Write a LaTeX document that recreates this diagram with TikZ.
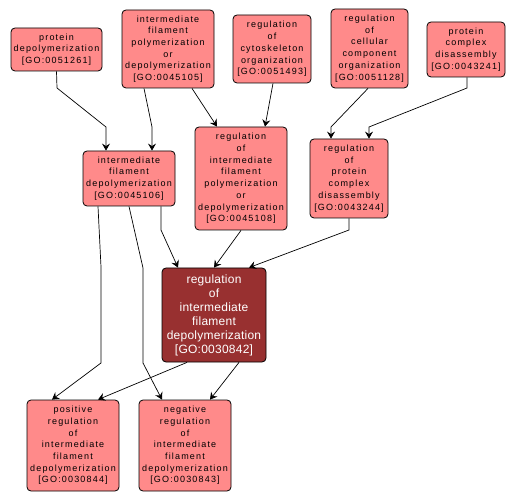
\documentclass[tikz,border=0pt]{standalone}
\usepackage{fontspec}
\usetikzlibrary{arrows.meta}
\newfontfamily\golight[LetterSpace=13]{Liberation Sans}
\newfontfamily\godark[LetterSpace=2]{Liberation Sans}
\definecolor{lightc}{RGB}{255,138,138}
\definecolor{darkc}{RGB}{152,48,48}
\tikzset{
  gobox/.style={draw=black, line width=0.8pt, rounded corners=4pt, fill=lightc,
    inner sep=0pt, align=center, text=black,
    font={\golight\fontsize{9}{11.7}\selectfont}},
  godk/.style={gobox, fill=darkc, text=white,
    font={\godark\fontsize{12}{14}\selectfont}},
  edge/.style={draw=black, line width=0.7pt,
    -{Stealth[length=7pt,width=8pt,inset=2.5pt]}}
}
\begin{document}
\begin{tikzpicture}[x=1pt,y=-1pt]
\useasboundingbox (0,0) rectangle (516,502);
\node[gobox, minimum width=91pt, minimum height=43pt] (pd) at (56.5,49.5) {protein\\depolymerization\\{[GO:0051261]}};
\node[gobox, minimum width=92pt, minimum height=78pt] (ifpd) at (168,49) {intermediate\\filament\\polymerization\\or\\depolymerization\\{[GO:0045105]}};
\node[gobox, minimum width=78pt, minimum height=68pt] (rco) at (272,49) {regulation\\of\\cytoskeleton\\organization\\{[GO:0051493]}};
\node[gobox, minimum width=77pt, minimum height=79pt] (rcc) at (369.5,48.5) {regulation\\of\\cellular\\component\\organization\\{[GO:0051128]}};
\node[gobox, minimum width=78pt, minimum height=55pt] (pcd) at (466,49.5) {protein\\complex\\disassembly\\{[GO:0043241]}};
\node[gobox, minimum width=92pt, minimum height=55pt] (ifd) at (129,178.5) {intermediate\\filament\\depolymerization\\{[GO:0045106]}};
\node[gobox, minimum width=92pt, minimum height=103pt] (rifp) at (241,178.5) {regulation\\of\\intermediate\\filament\\polymerization\\or\\depolymerization\\{[GO:0045108]}};
\node[gobox, minimum width=78pt, minimum height=79pt] (rpc) at (349,178.5) {regulation\\of\\protein\\complex\\disassembly\\{[GO:0043244]}};
\node[godk, minimum width=104pt, minimum height=94pt] (dark) at (214,315) {regulation\\of\\intermediate\\filament\\depolymerization\\{[GO:0030842]}};
\node[gobox, minimum width=92pt, minimum height=91pt] (pos) at (73,445.5) {positive\\regulation\\of\\intermediate\\filament\\depolymerization\\{[GO:0030844]}};
\node[gobox, minimum width=92pt, minimum height=91pt] (neg) at (185,445.5) {negative\\regulation\\of\\intermediate\\filament\\depolymerization\\{[GO:0030843]}};
% edges
\draw[edge] (pd.south) -- (57,88) -- (106,127) -- ([xshift=-23pt]ifd.north);
\draw[edge] ([xshift=-24pt]ifpd.south) -- (152,127) -- ([xshift=23pt]ifd.north);
\draw[edge] ([xshift=24pt]ifpd.south) -- ([xshift=-24pt]rifp.north);
\draw[edge] ([xshift=1pt]rco.south) -- ([xshift=24pt]rifp.north);
\draw[edge] ([xshift=-1.5pt]rcc.south) -- (331,127) -- ([xshift=-18pt]rpc.north);
\draw[edge] ([xshift=1pt]pcd.south) -- (467,88) -- (369,127) -- ([xshift=20pt]rpc.north);
\draw[edge] ([xshift=32pt]ifd.south) -- (161,230) -- ([xshift=-36pt]dark.north);
\draw[edge] ([xshift=-31pt]ifd.south) -- (101,267) -- (101,363) -- ([xshift=-21pt]pos.north);
\draw[edge] (ifd.south) -- (143,268) -- (143,363) -- ([xshift=-23pt]neg.north);
\draw[edge] (rifp.south) -- (dark.north);
\draw[edge] (rpc.south) -- (349,230) -- ([xshift=35pt]dark.north);
\draw[edge] ([xshift=-27pt]dark.south) -- ([xshift=25pt]pos.north);
\draw[edge] ([xshift=25pt]dark.south) -- ([xshift=25pt]neg.north);
\end{tikzpicture}
\end{document}
